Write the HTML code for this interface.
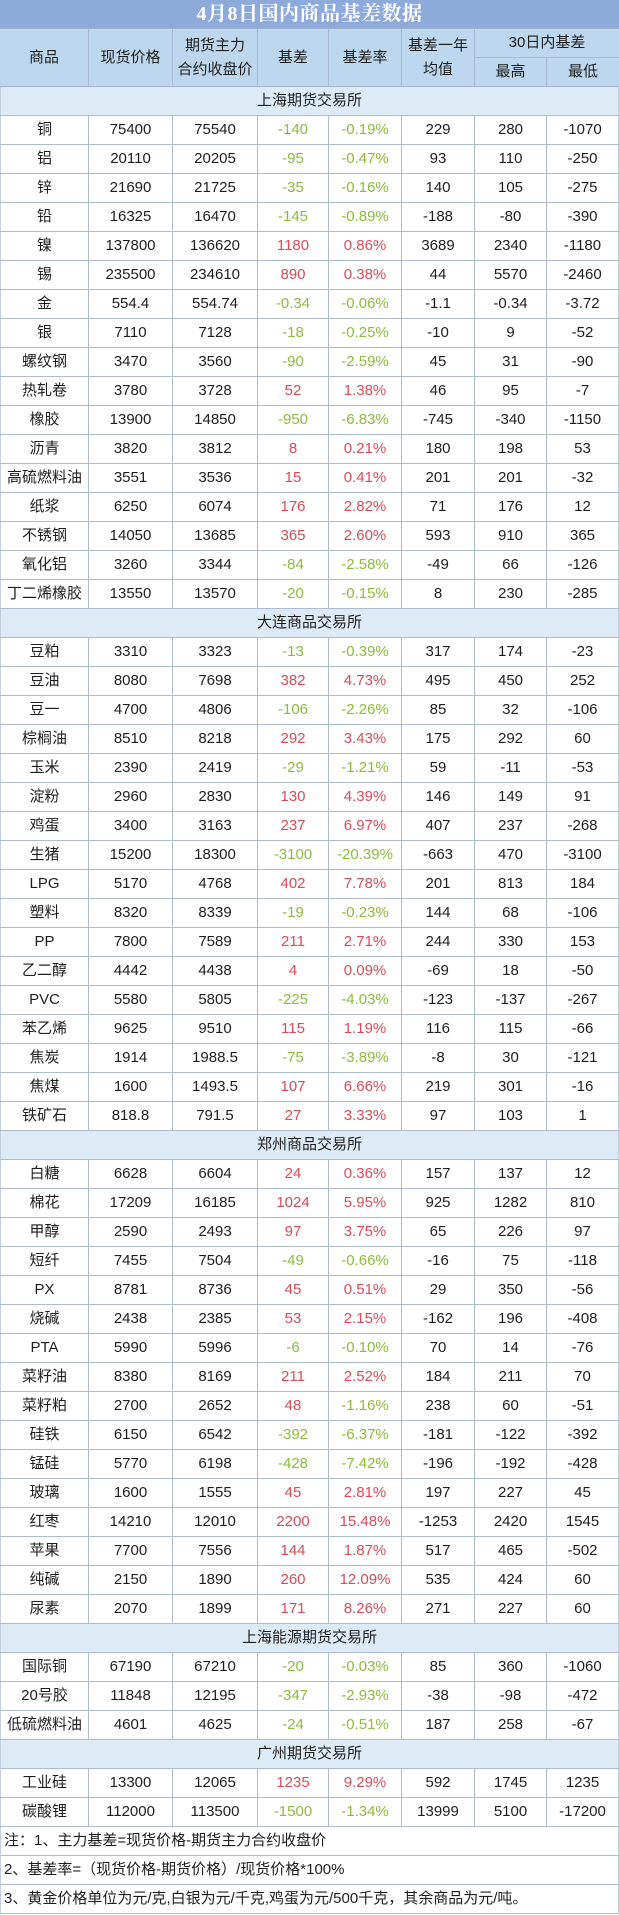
<!DOCTYPE html>
<html><head><meta charset="utf-8">
<style>
*{margin:0;padding:0;box-sizing:border-box}
html,body{width:619px;height:1915px;background:#fff;overflow:hidden}
body{font-family:"Liberation Sans","Noto Sans CJK SC",sans-serif;font-size:15px;color:#1e1e1e}
.t{height:29px;background:#8eaadb;color:#fff;text-align:center;font:bold 20px/29px "Liberation Serif","Noto Serif CJK SC",serif;border-bottom:1px solid #9fb2cc;letter-spacing:0.5px}
.h{position:relative;height:58px;background:#bdd7ee;border-bottom:1px solid #a3b3c9}
.h div{position:absolute;top:0;height:57px;display:flex;align-items:center;justify-content:center;text-align:center;line-height:24px;border-left:1px solid #a9bbd2}
.h .s1{height:29px;border-bottom:1px solid #a9bbd2}
.h .s2{top:29px;height:28px}
.r{display:flex;height:29px;border-bottom:1px solid #aebbcd}
.r span{display:block;height:28px;line-height:28px;text-align:center;border-left:1px solid #aebbcd;white-space:nowrap}
.r span:nth-child(1){width:88px;border-left:1px solid #c4cfdd}
.r span:nth-child(2){width:84px}
.r span:nth-child(3){width:85px}
.r span:nth-child(4){width:71px}
.r span:nth-child(5){width:73px}
.r span:nth-child(6){width:73px}
.r span:nth-child(7){width:72px}
.r span:nth-child(8){width:73px;border-right:1px solid #c4cfdd}
.r .g{color:#8cbb3f}
.r .d{color:#d94b57}
.s{height:29px;line-height:28px;background:#ddebf7;text-align:center;border-bottom:1px solid #aebbcd;border-left:1px solid #c4cfdd;border-right:1px solid #c4cfdd}
.n{height:29px;line-height:28px;padding-left:3px;border-bottom:1px solid #aebbcd;border-left:1px solid #c4cfdd;border-right:1px solid #c4cfdd;white-space:nowrap}
</style></head><body>
<div class="t">4月8日国内商品基差数据</div>
<div class="h">
<div style="left:0;width:88px;border-left:none">商品</div>
<div style="left:88px;width:84px">现货价格</div>
<div style="left:172px;width:85px">期货主力<br>合约收盘价</div>
<div style="left:257px;width:71px">基差</div>
<div style="left:328px;width:73px">基差率</div>
<div style="left:401px;width:73px">基差一年<br>均值</div>
<div class="s1" style="left:474px;width:145px">30日内基差</div>
<div class="s2" style="left:474px;width:72px">最高</div>
<div class="s2" style="left:546px;width:73px">最低</div>
</div>
<div class="s">上海期货交易所</div>
<div class="r"><span>铜</span><span>75400</span><span>75540</span><span class="g">-140</span><span class="g">-0.19%</span><span>229</span><span>280</span><span>-1070</span></div>
<div class="r"><span>铝</span><span>20110</span><span>20205</span><span class="g">-95</span><span class="g">-0.47%</span><span>93</span><span>110</span><span>-250</span></div>
<div class="r"><span>锌</span><span>21690</span><span>21725</span><span class="g">-35</span><span class="g">-0.16%</span><span>140</span><span>105</span><span>-275</span></div>
<div class="r"><span>铅</span><span>16325</span><span>16470</span><span class="g">-145</span><span class="g">-0.89%</span><span>-188</span><span>-80</span><span>-390</span></div>
<div class="r"><span>镍</span><span>137800</span><span>136620</span><span class="d">1180</span><span class="d">0.86%</span><span>3689</span><span>2340</span><span>-1180</span></div>
<div class="r"><span>锡</span><span>235500</span><span>234610</span><span class="d">890</span><span class="d">0.38%</span><span>44</span><span>5570</span><span>-2460</span></div>
<div class="r"><span>金</span><span>554.4</span><span>554.74</span><span class="g">-0.34</span><span class="g">-0.06%</span><span>-1.1</span><span>-0.34</span><span>-3.72</span></div>
<div class="r"><span>银</span><span>7110</span><span>7128</span><span class="g">-18</span><span class="g">-0.25%</span><span>-10</span><span>9</span><span>-52</span></div>
<div class="r"><span>螺纹钢</span><span>3470</span><span>3560</span><span class="g">-90</span><span class="g">-2.59%</span><span>45</span><span>31</span><span>-90</span></div>
<div class="r"><span>热轧卷</span><span>3780</span><span>3728</span><span class="d">52</span><span class="d">1.38%</span><span>46</span><span>95</span><span>-7</span></div>
<div class="r"><span>橡胶</span><span>13900</span><span>14850</span><span class="g">-950</span><span class="g">-6.83%</span><span>-745</span><span>-340</span><span>-1150</span></div>
<div class="r"><span>沥青</span><span>3820</span><span>3812</span><span class="d">8</span><span class="d">0.21%</span><span>180</span><span>198</span><span>53</span></div>
<div class="r"><span>高硫燃料油</span><span>3551</span><span>3536</span><span class="d">15</span><span class="d">0.41%</span><span>201</span><span>201</span><span>-32</span></div>
<div class="r"><span>纸浆</span><span>6250</span><span>6074</span><span class="d">176</span><span class="d">2.82%</span><span>71</span><span>176</span><span>12</span></div>
<div class="r"><span>不锈钢</span><span>14050</span><span>13685</span><span class="d">365</span><span class="d">2.60%</span><span>593</span><span>910</span><span>365</span></div>
<div class="r"><span>氧化铝</span><span>3260</span><span>3344</span><span class="g">-84</span><span class="g">-2.58%</span><span>-49</span><span>66</span><span>-126</span></div>
<div class="r"><span>丁二烯橡胶</span><span>13550</span><span>13570</span><span class="g">-20</span><span class="g">-0.15%</span><span>8</span><span>230</span><span>-285</span></div>
<div class="s">大连商品交易所</div>
<div class="r"><span>豆粕</span><span>3310</span><span>3323</span><span class="g">-13</span><span class="g">-0.39%</span><span>317</span><span>174</span><span>-23</span></div>
<div class="r"><span>豆油</span><span>8080</span><span>7698</span><span class="d">382</span><span class="d">4.73%</span><span>495</span><span>450</span><span>252</span></div>
<div class="r"><span>豆一</span><span>4700</span><span>4806</span><span class="g">-106</span><span class="g">-2.26%</span><span>85</span><span>32</span><span>-106</span></div>
<div class="r"><span>棕榈油</span><span>8510</span><span>8218</span><span class="d">292</span><span class="d">3.43%</span><span>175</span><span>292</span><span>60</span></div>
<div class="r"><span>玉米</span><span>2390</span><span>2419</span><span class="g">-29</span><span class="g">-1.21%</span><span>59</span><span>-11</span><span>-53</span></div>
<div class="r"><span>淀粉</span><span>2960</span><span>2830</span><span class="d">130</span><span class="d">4.39%</span><span>146</span><span>149</span><span>91</span></div>
<div class="r"><span>鸡蛋</span><span>3400</span><span>3163</span><span class="d">237</span><span class="d">6.97%</span><span>407</span><span>237</span><span>-268</span></div>
<div class="r"><span>生猪</span><span>15200</span><span>18300</span><span class="g">-3100</span><span class="g">-20.39%</span><span>-663</span><span>470</span><span>-3100</span></div>
<div class="r"><span>LPG</span><span>5170</span><span>4768</span><span class="d">402</span><span class="d">7.78%</span><span>201</span><span>813</span><span>184</span></div>
<div class="r"><span>塑料</span><span>8320</span><span>8339</span><span class="g">-19</span><span class="g">-0.23%</span><span>144</span><span>68</span><span>-106</span></div>
<div class="r"><span>PP</span><span>7800</span><span>7589</span><span class="d">211</span><span class="d">2.71%</span><span>244</span><span>330</span><span>153</span></div>
<div class="r"><span>乙二醇</span><span>4442</span><span>4438</span><span class="d">4</span><span class="d">0.09%</span><span>-69</span><span>18</span><span>-50</span></div>
<div class="r"><span>PVC</span><span>5580</span><span>5805</span><span class="g">-225</span><span class="g">-4.03%</span><span>-123</span><span>-137</span><span>-267</span></div>
<div class="r"><span>苯乙烯</span><span>9625</span><span>9510</span><span class="d">115</span><span class="d">1.19%</span><span>116</span><span>115</span><span>-66</span></div>
<div class="r"><span>焦炭</span><span>1914</span><span>1988.5</span><span class="g">-75</span><span class="g">-3.89%</span><span>-8</span><span>30</span><span>-121</span></div>
<div class="r"><span>焦煤</span><span>1600</span><span>1493.5</span><span class="d">107</span><span class="d">6.66%</span><span>219</span><span>301</span><span>-16</span></div>
<div class="r"><span>铁矿石</span><span>818.8</span><span>791.5</span><span class="d">27</span><span class="d">3.33%</span><span>97</span><span>103</span><span>1</span></div>
<div class="s">郑州商品交易所</div>
<div class="r"><span>白糖</span><span>6628</span><span>6604</span><span class="d">24</span><span class="d">0.36%</span><span>157</span><span>137</span><span>12</span></div>
<div class="r"><span>棉花</span><span>17209</span><span>16185</span><span class="d">1024</span><span class="d">5.95%</span><span>925</span><span>1282</span><span>810</span></div>
<div class="r"><span>甲醇</span><span>2590</span><span>2493</span><span class="d">97</span><span class="d">3.75%</span><span>65</span><span>226</span><span>97</span></div>
<div class="r"><span>短纤</span><span>7455</span><span>7504</span><span class="g">-49</span><span class="g">-0.66%</span><span>-16</span><span>75</span><span>-118</span></div>
<div class="r"><span>PX</span><span>8781</span><span>8736</span><span class="d">45</span><span class="d">0.51%</span><span>29</span><span>350</span><span>-56</span></div>
<div class="r"><span>烧碱</span><span>2438</span><span>2385</span><span class="d">53</span><span class="d">2.15%</span><span>-162</span><span>196</span><span>-408</span></div>
<div class="r"><span>PTA</span><span>5990</span><span>5996</span><span class="g">-6</span><span class="g">-0.10%</span><span>70</span><span>14</span><span>-76</span></div>
<div class="r"><span>菜籽油</span><span>8380</span><span>8169</span><span class="d">211</span><span class="d">2.52%</span><span>184</span><span>211</span><span>70</span></div>
<div class="r"><span>菜籽粕</span><span>2700</span><span>2652</span><span class="d">48</span><span class="g">-1.16%</span><span>238</span><span>60</span><span>-51</span></div>
<div class="r"><span>硅铁</span><span>6150</span><span>6542</span><span class="g">-392</span><span class="g">-6.37%</span><span>-181</span><span>-122</span><span>-392</span></div>
<div class="r"><span>锰硅</span><span>5770</span><span>6198</span><span class="g">-428</span><span class="g">-7.42%</span><span>-196</span><span>-192</span><span>-428</span></div>
<div class="r"><span>玻璃</span><span>1600</span><span>1555</span><span class="d">45</span><span class="d">2.81%</span><span>197</span><span>227</span><span>45</span></div>
<div class="r"><span>红枣</span><span>14210</span><span>12010</span><span class="d">2200</span><span class="d">15.48%</span><span>-1253</span><span>2420</span><span>1545</span></div>
<div class="r"><span>苹果</span><span>7700</span><span>7556</span><span class="d">144</span><span class="d">1.87%</span><span>517</span><span>465</span><span>-502</span></div>
<div class="r"><span>纯碱</span><span>2150</span><span>1890</span><span class="d">260</span><span class="d">12.09%</span><span>535</span><span>424</span><span>60</span></div>
<div class="r"><span>尿素</span><span>2070</span><span>1899</span><span class="d">171</span><span class="d">8.26%</span><span>271</span><span>227</span><span>60</span></div>
<div class="s">上海能源期货交易所</div>
<div class="r"><span>国际铜</span><span>67190</span><span>67210</span><span class="g">-20</span><span class="g">-0.03%</span><span>85</span><span>360</span><span>-1060</span></div>
<div class="r"><span>20号胶</span><span>11848</span><span>12195</span><span class="g">-347</span><span class="g">-2.93%</span><span>-38</span><span>-98</span><span>-472</span></div>
<div class="r"><span>低硫燃料油</span><span>4601</span><span>4625</span><span class="g">-24</span><span class="g">-0.51%</span><span>187</span><span>258</span><span>-67</span></div>
<div class="s">广州期货交易所</div>
<div class="r"><span>工业硅</span><span>13300</span><span>12065</span><span class="d">1235</span><span class="d">9.29%</span><span>592</span><span>1745</span><span>1235</span></div>
<div class="r"><span>碳酸锂</span><span>112000</span><span>113500</span><span class="g">-1500</span><span class="g">-1.34%</span><span>13999</span><span>5100</span><span>-17200</span></div>
<div class="n">注：1、主力基差=现货价格-期货主力合约收盘价</div>
<div class="n">2、基差率=（现货价格-期货价格）/现货价格*100%</div>
<div class="n">3、黄金价格单位为元/克,白银为元/千克,鸡蛋为元/500千克，其余商品为元/吨。</div>
</body></html>
